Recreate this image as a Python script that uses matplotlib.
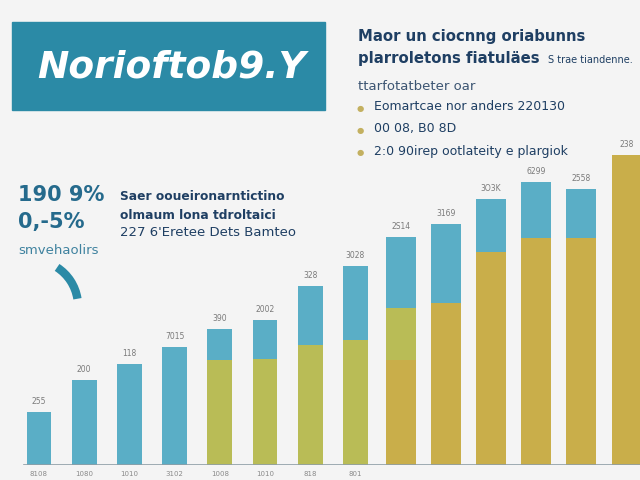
import matplotlib.pyplot as plt
from matplotlib.patches import Arc, Rectangle

# bar data (three stacked segments, bottom to top)
gold_part = [0, 0, 0, 0, 0, 0, 0, 0, 10.5, 16.2, 21.3, 22.7, 22.7, 31.0]
green_part = [0, 0, 0, 0, 10.5, 10.6, 12.0, 12.5, 5.2, 0, 0, 0, 0, 0]
blue_part = [5.3, 8.5, 10.1, 11.8, 3.1, 3.9, 5.9, 7.4, 7.1, 7.9, 5.3, 5.6, 4.9, 0]
bar_labels = ["255", "200", "118", "7015", "390", "2002", "328", "3028",
              "2S14", "3169", "3O3K", "6299", "2558", "238"]
tick_labels = ["8108", "1080", "1010", "3102", "1008", "1010", "818", "801"]

bullets = ["Eomartcae nor anders 220130",
           "00 08, B0 8D",
           "2:0 90irep ootlateity e plargiok"]

blue_c = "#5aaec6"
green_c = "#b9bc56"
gold_c = "#c9ae4a"
teal = "#2b8aa6"
navy = "#1f3f63"

fig = plt.figure(figsize=(6.4, 4.8), dpi=100)
fig.patch.set_facecolor("#f4f4f4")

W, H = 640.0, 480.0
def fx(x):
    return x / W
def fy(y):
    return 1 - y / H

# chart
ax = fig.add_axes([0, 15 / H, 1, 1 - 15 / H])
ax.set_facecolor("none")
n = len(blue_part)
xs = list(range(n))
widths = [0.55] * 8 + [0.66] * (n - 8)
bottoms2 = [g for g in gold_part]
bottoms3 = [g + gr for g, gr in zip(gold_part, green_part)]
ax.bar(xs, gold_part, width=widths, color=gold_c)
ax.bar(xs, green_part, width=widths, bottom=bottoms2, color=green_c)
ax.bar(xs, blue_part, width=widths, bottom=bottoms3, color=blue_c)
for i in xs:
    top = gold_part[i] + green_part[i] + blue_part[i]
    ax.text(i, top + 0.6, bar_labels[i], ha="center", va="bottom",
            fontsize=5.5, color="#7a7a7a")
ax.set_xlim(-39 / 45.2, (640 - 39) / 45.2)
ax.set_ylim(0, 46.5)
ax.axhline(0, xmin=24 / W, color="#8f9ea6", lw=1.2, zorder=5)
ax.set_xticks(range(len(tick_labels)))
ax.set_xticklabels(tick_labels, fontsize=5, color="#8a8a8a")
ax.tick_params(axis="x", length=0, pad=4)
ax.set_yticks([])
for s in ax.spines.values():
    s.set_visible(False)

# banner
fig.patches.append(Rectangle((fx(12), fy(110)), fx(325) - fx(12), fy(22) - fy(110),
                             transform=fig.transFigure, color=teal, zorder=0))
fig.text(fx(172), fy(68), "Norioftob9.Y", color="white", fontsize=27,
         fontweight="bold", style="italic", ha="center", va="center")

# top right text block
fig.text(fx(358), fy(36), "Maor un cioсnng oriabunns", color=navy,
         fontsize=10.7, fontweight="bold", va="center")
fig.text(fx(358), fy(59), "plarroletons fiatuläes", color=navy,
         fontsize=10.7, fontweight="bold", va="center")
fig.text(fx(548), fy(60), "S trae tiandenne.", color=navy,
         fontsize=7, va="center")
fig.text(fx(358), fy(86), "ttarfotatbeter oar", color="#3c5572",
         fontsize=9.5, va="center")
for k, b in enumerate(bullets):
    y = 106 + k * 22.5
    fig.text(fx(360), fy(y + 2), "\u25CF", color="#c3b060", fontsize=6,
             ha="center", va="center")
    fig.text(fx(374), fy(y), b, color=navy, fontsize=9, va="center")

# left stats
fig.text(fx(18), fy(195), "190 9%", color="#256a8c", fontsize=15,
         fontweight="bold", va="center")
fig.text(fx(18), fy(222), "0,-5%", color="#256a8c", fontsize=15,
         fontweight="bold", va="center")
fig.text(fx(18), fy(251), "smvehaolirs", color="#3f829f", fontsize=9.5,
         va="center")
fig.patches.append(Arc((fx(32), fy(306)), 2 * 46 / W, 2 * 46 / H,
                       theta1=12, theta2=64, transform=fig.transFigure,
                       color=teal, lw=6))

fig.text(fx(120), fy(197), "Saer ooueironarntictino", color=navy,
         fontsize=8.8, fontweight="bold", va="center")
fig.text(fx(120), fy(215), "olmaum lona tdroltaici", color=navy,
         fontsize=8.8, fontweight="bold", va="center")
fig.text(fx(120), fy(233), "227 6'Eretee Dets Bamteo", color=navy,
         fontsize=9.5, va="center")

fig.savefig("out.png", dpi=100, facecolor=fig.get_facecolor())
